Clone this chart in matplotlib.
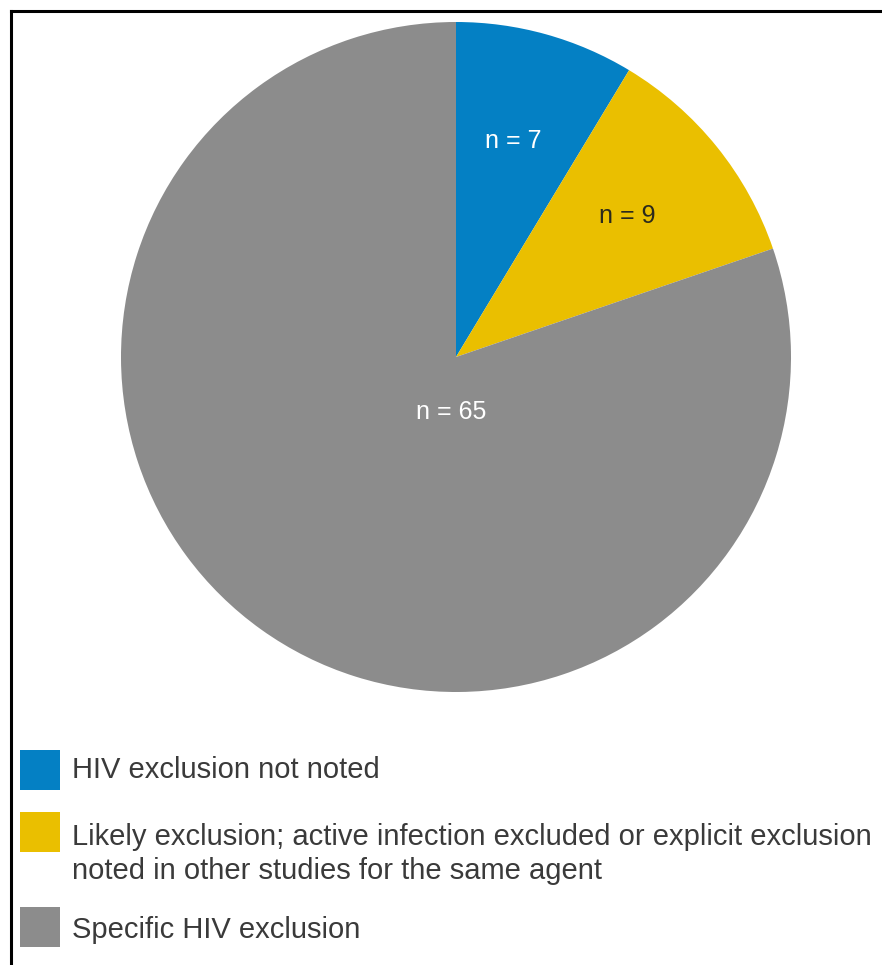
import numpy as np
import matplotlib.pyplot as plt
from matplotlib.lines import Line2D
from matplotlib.patches import Rectangle

# Trial counts by HIV exclusion status
categories = [
    "HIV exclusion not noted",
    "Likely exclusion; active infection excluded or explicit exclusion\nnoted in other studies for the same agent",
    "Specific HIV exclusion",
]
counts = [7, 9, 65]
colors = ["#0480c4", "#eabf00", "#8c8c8c"]
label_colors = ["white", "#2b2a1c", "white"]

W, H = 882, 965
fig = plt.figure(figsize=(W / 100, H / 100), dpi=100)
fig.patch.set_facecolor("white")

# pie axes placed in pixel terms: centre (456, 357), radius 335
cx, cy, r = 456, 357, 335
ax = fig.add_axes([(cx - r) / W, (H - cy - r) / H, 2 * r / W, 2 * r / H])
wedges, _ = ax.pie(counts, colors=colors, startangle=90, counterclock=False,
                   radius=1, wedgeprops=dict(linewidth=0))
ax.set_xlim(-1, 1)
ax.set_ylim(-1, 1)
ax.axis("off")

label_pos = []
for w in wedges[:2]:
    mid = np.deg2rad((w.theta1 + w.theta2) / 2)
    label_pos.append((0.67 * np.cos(mid) - 0.01, 0.67 * np.sin(mid)))
label_pos.append((-0.015, -0.165))

for (x, y), n, c in zip(label_pos, counts, label_colors):
    ax.text(x, y, f"n = {n}", ha="center", va="center", color=c,
            fontsize=18, family="Liberation Sans")

# legend drawn by hand in figure pixels
box_top = [750, 812, 907]
text_y = [770, 854, 930]
for top, ty, col, lab in zip(box_top, text_y, colors, categories):
    fig.add_artist(Rectangle((20 / W, 1 - (top + 40) / H), 40 / W, 40 / H,
                             transform=fig.transFigure, color=col, lw=0))
    fig.text(72 / W, 1 - ty / H, lab, ha="left", va="center", color="#3a3a3a",
             fontsize=21, family="Liberation Sans", linespacing=1.24)

# frame edges (left and top)
fig.add_artist(Line2D([10.5 / W, 10.5 / W], [0, 1 - 10.5 / H], color="black",
                      lw=2.2, transform=fig.transFigure, solid_capstyle="projecting"))
fig.add_artist(Line2D([10.5 / W, 1], [1 - 10.5 / H, 1 - 10.5 / H], color="black",
                      lw=2.2, transform=fig.transFigure, solid_capstyle="projecting"))

fig.savefig("out.png", dpi=100)
